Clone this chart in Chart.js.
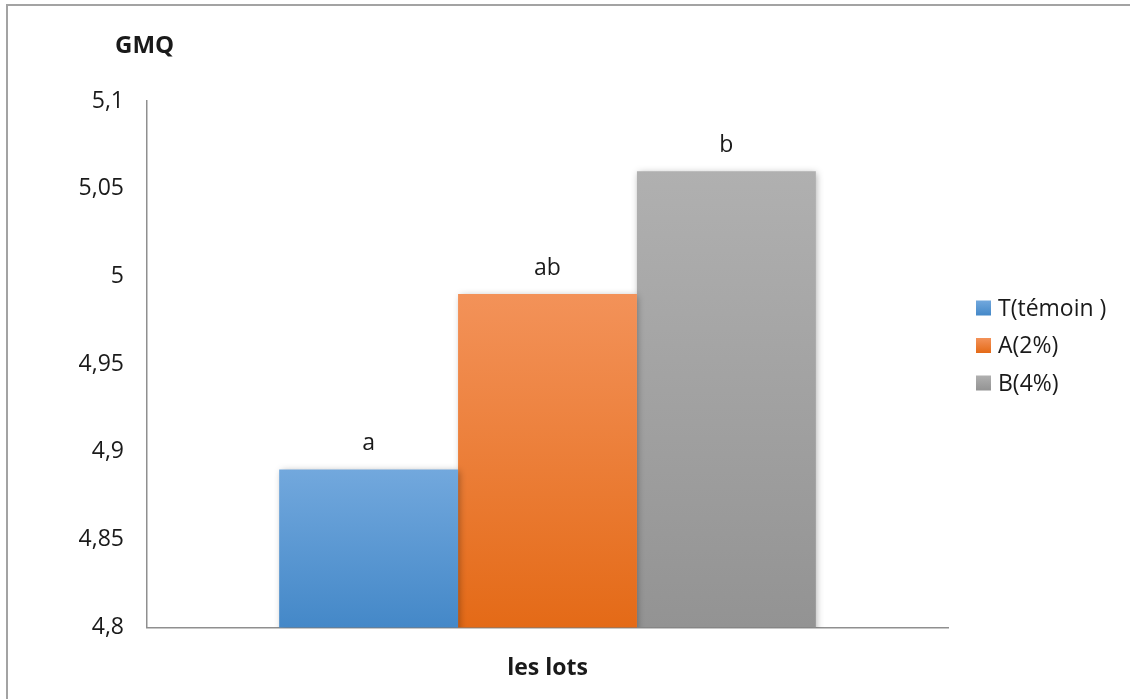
<!DOCTYPE html>
<html>
<head>
<meta charset="utf-8">
<script src="https://cdn.jsdelivr.net/npm/chart.js@4/dist/chart.umd.min.js"></script>
<style>
  html, body { margin: 0; padding: 0; background: #ffffff; }
  #c { display: block; }
</style>
</head>
<body>
<canvas id="c" width="1130" height="699"></canvas>
<script>
// GMQ par lot
const categories = [''];
const seriesNames = ['T(témoin )', 'A(2%)', 'B(4%)'];
const gmqValues = [4.89, 4.99, 5.06];
const groupLetters = ['a', 'ab', 'b'];
const yMin = 4.8;
const yMax = 5.1;
const yStep = 0.05;
const yAxisName = 'GMQ';
const xAxisName = 'les lots';

// top / bottom colours of each bar's vertical gradient
const gradientStops = [
  ['#72A8DD', '#4488C8'],
  ['#F39259', '#E46A17'],
  ['#B0B0B0', '#939393']
];

const FONT = "'Open Sans', 'DejaVu Sans', sans-serif";
Chart.defaults.font.family = FONT;
Chart.defaults.font.size = 23;
Chart.defaults.color = '#1a1a1a';

function barGradient(i) {
  return function (ctx) {
    const chart = ctx.chart;
    const stops = gradientStops[i];
    if (!chart.chartArea || ctx.type !== 'data') return stops[1];
    const y = chart.scales.y;
    const top = y.getPixelForValue(ctx.raw);
    const bottom = y.getPixelForValue(y.min);
    const g = chart.ctx.createLinearGradient(0, top, 0, bottom);
    g.addColorStop(0, stops[0]);
    g.addColorStop(1, stops[1]);
    return g;
  };
}

const datasets = seriesNames.map((name, i) => ({
  label: name,
  data: [gmqValues[i]],
  backgroundColor: barGradient(i),
  borderWidth: 0,
  categoryPercentage: 0.67,
  barPercentage: 1.0
}));

// outer frame of the chart
const framePlugin = {
  id: 'frame',
  beforeDraw(chart) {
    const c = chart.ctx;
    c.save();
    c.fillStyle = '#ffffff';
    c.fillRect(0, 0, chart.width, chart.height);
    c.strokeStyle = '#a3a3a3';
    c.lineWidth = 2;
    c.strokeRect(7, 5, chart.width + 20, chart.height + 20);
    c.restore();
  }
};

// soft drop shadow under the bars
const shadowPlugin = {
  id: 'barShadow',
  beforeDatasetDraw(chart) {
    const c = chart.ctx;
    c.save();
    c.shadowColor = 'rgba(0,0,0,0.32)';
    c.shadowBlur = 7;
    c.shadowOffsetX = 1.5;
    c.shadowOffsetY = 2;
  },
  afterDatasetDraw(chart) {
    chart.ctx.restore();
  }
};

// significance letters above each bar
const letterPlugin = {
  id: 'letters',
  afterDatasetsDraw(chart) {
    const c = chart.ctx;
    c.save();
    c.font = '23px ' + FONT;
    c.fillStyle = '#1a1a1a';
    c.textAlign = 'center';
    c.textBaseline = 'middle';
    chart.data.datasets.forEach((ds, i) => {
      const bar = chart.getDatasetMeta(i).data[0];
      if (bar) c.fillText(groupLetters[i], bar.x, bar.y - 26);
    });
    c.restore();
  }
};

// value-axis name, written above the axis
const axisNamePlugin = {
  id: 'axisName',
  afterDraw(chart) {
    const c = chart.ctx;
    c.save();
    c.font = 'bold 24px ' + FONT;
    c.fillStyle = '#1a1a1a';
    c.textAlign = 'left';
    c.textBaseline = 'middle';
    c.fillText(yAxisName, 115, 46);
    c.restore();
  }
};

// legend on the right
const sideLegendPlugin = {
  id: 'sideLegend',
  afterDraw(chart) {
    const c = chart.ctx;
    const x0 = 976, box = 15, rowTop = 308, rowGap = 37.5;
    c.save();
    c.font = '23px ' + FONT;
    c.textBaseline = 'middle';
    c.textAlign = 'left';
    chart.data.datasets.forEach((ds, i) => {
      const yc = rowTop + i * rowGap;
      const g = c.createLinearGradient(0, yc - box / 2, 0, yc + box / 2);
      g.addColorStop(0, gradientStops[i][0]);
      g.addColorStop(1, gradientStops[i][1]);
      c.fillStyle = g;
      c.fillRect(x0, yc - box / 2, box, box);
      c.fillStyle = '#1a1a1a';
      c.fillText(ds.label, x0 + box + 7, yc + 1);
    });
    c.restore();
  }
};

function fmtTick(v) {
  return String(Number(Number(v).toFixed(2))).replace('.', ',');
}

new Chart(document.getElementById('c'), {
  type: 'bar',
  data: { labels: categories, datasets },
  options: {
    responsive: false,
    animation: false,
    devicePixelRatio: 1,
    layout: { padding: { left: 10, right: 182, top: 101, bottom: 0 } },
    plugins: {
      legend: { display: false },
      tooltip: { enabled: false },
      title: { display: false }
    },
    scales: {
      x: {
        grid: { display: false, drawTicks: false },
        border: { display: true, color: '#8f8f8f', width: 1.5 },
        ticks: { display: false },
        title: {
          display: true,
          text: xAxisName,
          color: '#1a1a1a',
          font: { size: 23, weight: 'bold' },
          padding: { top: 27, bottom: 17 }
        }
      },
      y: {
        min: yMin,
        max: yMax,
        grid: { display: false, drawTicks: false },
        border: { display: true, color: '#8f8f8f', width: 1.5 },
        ticks: {
          stepSize: yStep,
          padding: 23,
          color: '#1a1a1a',
          callback: (v) => fmtTick(v)
        },
        afterFit(scale) { scale.width = 137; }
      }
    }
  },
  plugins: [framePlugin, shadowPlugin, letterPlugin, axisNamePlugin, sideLegendPlugin]
});
</script>
</body>
</html>
